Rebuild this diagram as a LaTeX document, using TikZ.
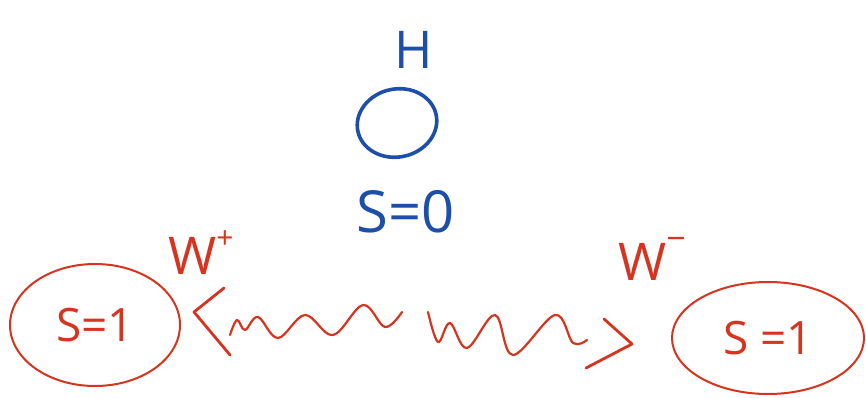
\documentclass[tikz,border=0pt]{standalone}
\usepackage{fontspec}
\setmainfont{Open Sans}
\usetikzlibrary{shapes.geometric}
\definecolor{inkblue}{RGB}{28,78,170}
\definecolor{inkred}{RGB}{214,52,30}
\tikzset{
  hand/.style={line width=2.2pt,line cap=round,line join=round},
  bluetext/.style={text=inkblue,inner sep=0pt},
  redtext/.style={text=inkred,inner sep=0pt},
  ringred/.style={ellipse,draw=inkred,hand,line width=2pt,text=inkred,inner sep=0pt},
  wave/.style={draw=inkred,line width=2.2pt,line cap=round,line join=round},
  tip/.style={draw=inkred,hand,line width=2.8pt}
}
\begin{document}
\begin{tikzpicture}[x=1pt,y=-1pt]
\useasboundingbox[fill=white] (0,0) rectangle (866,398);
% Higgs
\node[bluetext,font=\fontsize{52}{52}\selectfont] (H) at (414,50) {H};
\node[draw=inkblue,hand,line width=3.6pt,ellipse,minimum width=80pt,minimum height=68pt,rotate=12] (higgs) at (397,123) {};
\node[bluetext,font=\fontsize{58}{58}\selectfont] (s0) at (406,212) {S=0};
% W labels
\node[redtext,font=\fontsize{52}{52}\selectfont,anchor=base west] (wplus) at (168,274) {W\raisebox{26pt}{\fontsize{30}{30}\selectfont +}};
\node[redtext,font=\fontsize{52}{52}\selectfont,anchor=base west] (wminus) at (618,280) {W\raisebox{30pt}{\fontsize{34}{34}\selectfont −}};
% W bosons
\node[ringred,minimum width=170pt,minimum height=122pt,font=\fontsize{46}{46}\selectfont] (wl) at (95,325) {S=1};
\node[ringred,minimum width=192pt,minimum height=112pt,font=\fontsize{46}{46}\selectfont] (wr) at (768,338) {S =1};
% propagator
\coordinate (la) at ([xshift=49pt,yshift=-30pt]wl.east);
\coordinate (lb) at ([xshift=13pt,yshift=13pt]wl.east);
\coordinate (lc) at ([xshift=43pt,yshift=37pt]wl.east);
\coordinate (ra) at ([xshift=-85pt,yshift=-30pt]wr.west);
\coordinate (rb) at ([xshift=-39pt,yshift=-6pt]wr.west);
\coordinate (rc) at ([xshift=-67pt,yshift=19pt]wr.west);
\draw[tip] (la) -- (lb) -- (lc);
\draw[tip] (ra) -- (rb) -- (rc);
\draw[wave] plot[smooth,tension=0.6] coordinates {(230,335) (237,320) (245,330) (258,317) (278,338) (305,315) (333,335) (363,305) (385,327) (402,312)};
\draw[wave] plot[smooth,tension=0.6] coordinates {(428,312) (438,342) (450,323) (467,348) (495,315) (513,355) (555,315) (573,343) (587,340)};
\end{tikzpicture}
\end{document}
